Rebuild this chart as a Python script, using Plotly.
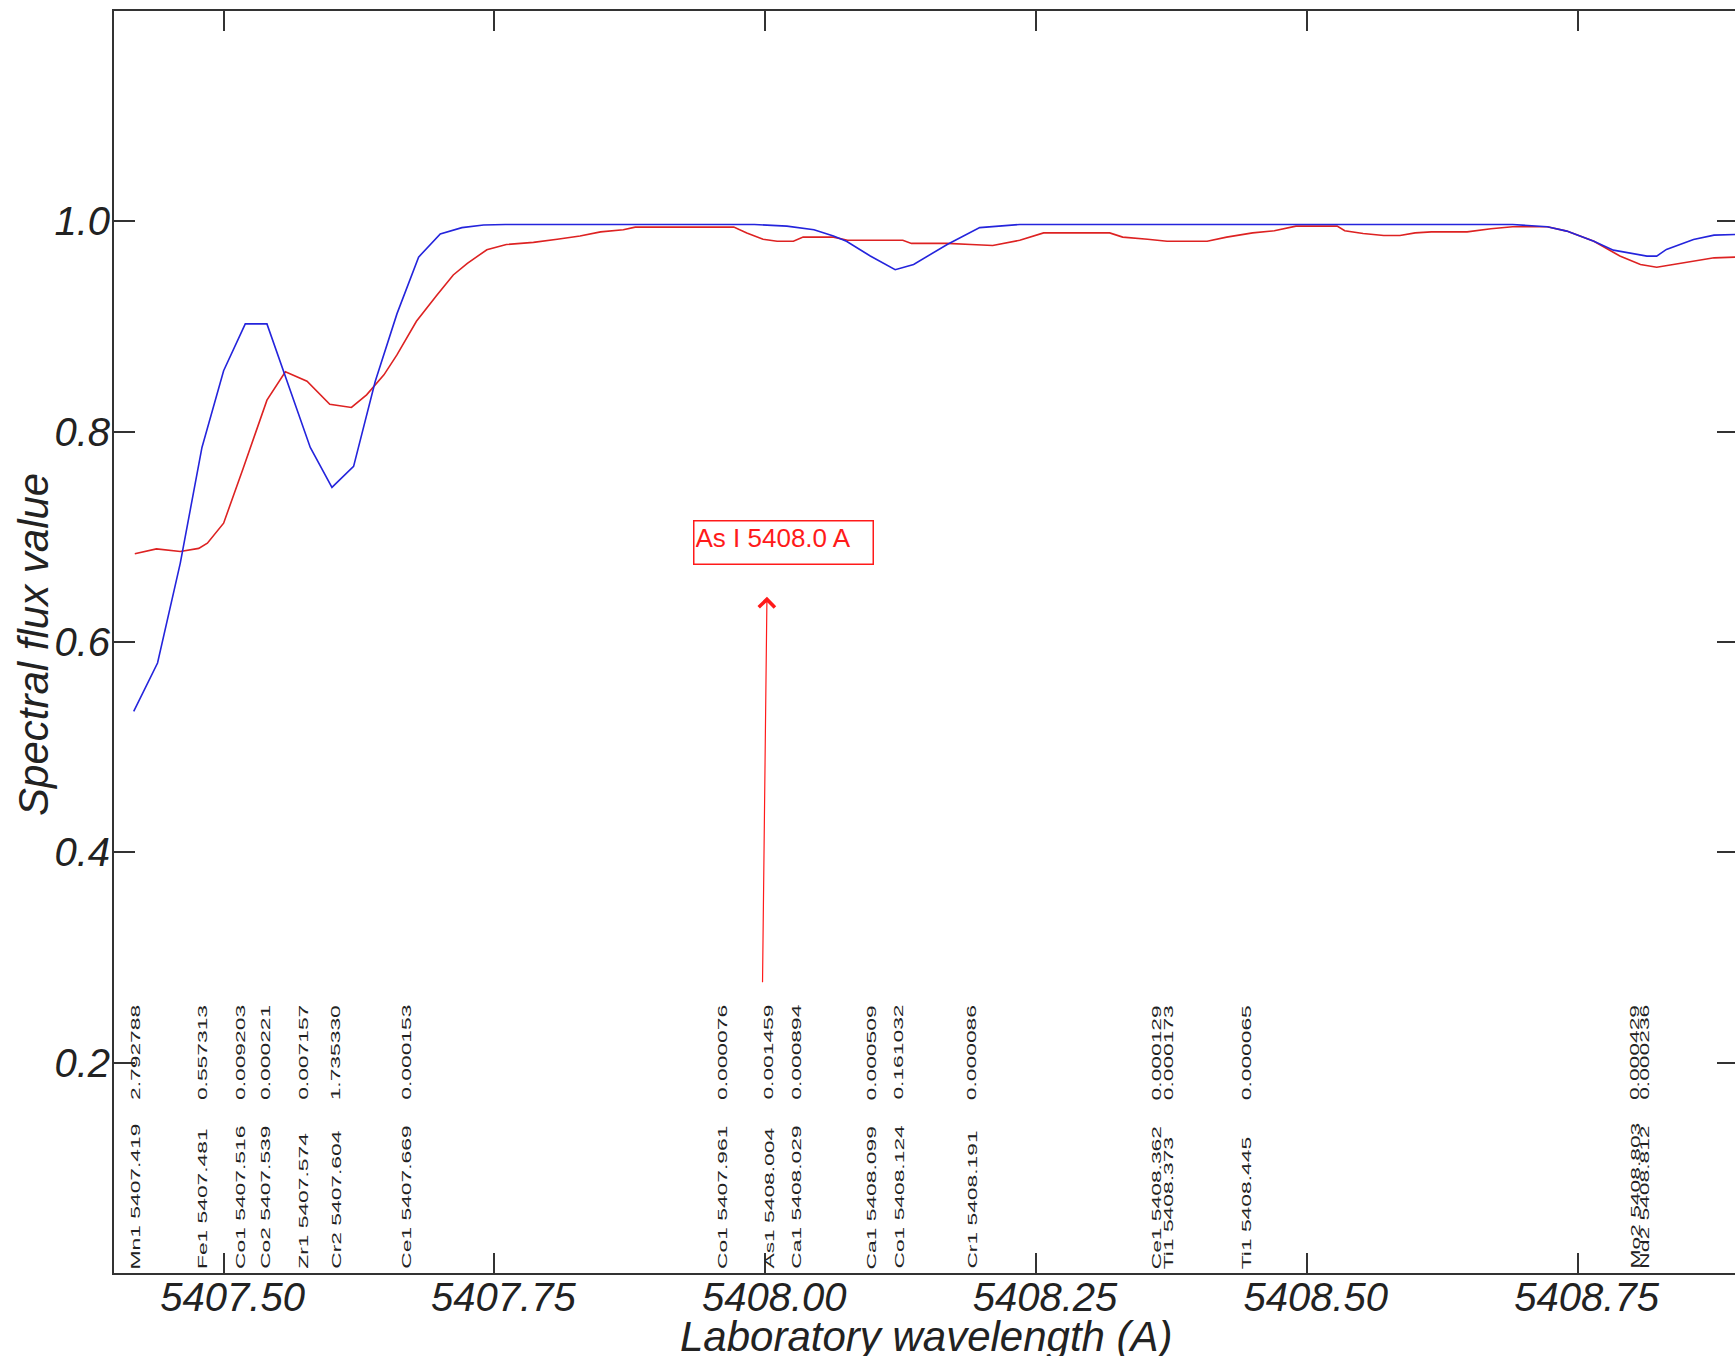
import plotly.graph_objects as go

# Synthetic spectrum (blue)
blue_wl = [5407.417, 5407.439, 5407.460, 5407.480, 5407.500, 5407.520, 5407.540, 5407.580,
           5407.600, 5407.620, 5407.640, 5407.660, 5407.680, 5407.700, 5407.720, 5407.740,
           5407.760, 5407.990, 5408.020, 5408.045, 5408.063, 5408.075, 5408.097, 5408.120,
           5408.137, 5408.168, 5408.198, 5408.235, 5408.690, 5408.722, 5408.740, 5408.765,
           5408.783, 5408.799, 5408.814, 5408.823, 5408.832, 5408.857, 5408.876, 5408.896]
blue_flux = [0.534, 0.580, 0.675, 0.785, 0.858, 0.9025, 0.9025, 0.785,
             0.747, 0.767, 0.848, 0.912, 0.966, 0.988, 0.994, 0.9965,
             0.997, 0.997, 0.9954, 0.992, 0.986, 0.981, 0.967, 0.954,
             0.959, 0.978, 0.994, 0.997, 0.997, 0.9948, 0.9907, 0.981,
             0.9726, 0.970, 0.9669, 0.9669, 0.9733, 0.9828, 0.9869, 0.9875]

# Observed spectrum (red)
red_wl = [5407.418, 5407.438, 5407.460, 5407.477, 5407.485, 5407.500, 5407.518, 5407.540,
          5407.557, 5407.577, 5407.598, 5407.618, 5407.632, 5407.648, 5407.660, 5407.678,
          5407.697, 5407.712, 5407.725, 5407.743, 5407.761, 5407.786, 5407.808, 5407.829,
          5407.848, 5407.869, 5407.880, 5407.930, 5407.971, 5407.983, 5407.998, 5408.011,
          5408.026, 5408.035, 5408.063, 5408.076, 5408.127, 5408.135, 5408.168, 5408.190,
          5408.210, 5408.235, 5408.257, 5408.318, 5408.330, 5408.353, 5408.371, 5408.408,
          5408.426, 5408.450, 5408.470, 5408.490, 5408.528, 5408.535, 5408.552, 5408.571,
          5408.586, 5408.600, 5408.615, 5408.648, 5408.670, 5408.690, 5408.722, 5408.740,
          5408.765, 5408.789, 5408.808, 5408.823, 5408.842, 5408.863, 5408.876, 5408.896]
red_flux = [0.684, 0.6885, 0.686, 0.689, 0.694, 0.713, 0.765, 0.830,
            0.857, 0.848, 0.826, 0.823, 0.835, 0.854, 0.873, 0.905,
            0.930, 0.949, 0.960, 0.973, 0.978, 0.980, 0.983, 0.986,
            0.990, 0.992, 0.9945, 0.9945, 0.9945, 0.989, 0.983, 0.981,
            0.981, 0.985, 0.985, 0.982, 0.982, 0.979, 0.979, 0.978,
            0.977, 0.982, 0.989, 0.989, 0.985, 0.983, 0.981, 0.981,
            0.985, 0.989, 0.991, 0.9954, 0.9954, 0.991, 0.9885, 0.9866,
            0.9866, 0.989, 0.990, 0.990, 0.993, 0.9948, 0.9948, 0.9907,
            0.981, 0.967, 0.959, 0.9564, 0.9596, 0.9628, 0.9653, 0.966]

# Line list: species, laboratory wavelength, strength
line_species = ["Mn1", "Fe1", "Co1", "Co2", "Zr1", "Cr2", "Ce1", "Co1", "As1", "Ca1",
                "Ca1", "Co1", "Cr1", "Ce1", "Ti1", "Ti1", "Mo2", "Nd2"]
line_wl = [5407.419, 5407.481, 5407.516, 5407.539, 5407.574, 5407.604, 5407.669, 5407.961,
           5408.004, 5408.029, 5408.099, 5408.124, 5408.191, 5408.362, 5408.373, 5408.445,
           5408.803, 5408.812]
line_strength = [2.792788, 0.557313, 0.009203, 0.000221, 0.007157, 1.735330, 0.000153,
                 0.000076, 0.001459, 0.000894, 0.000509, 0.161032, 0.000086, 0.000129,
                 0.000173, 0.000065, 0.000429, 0.000236]

# Identified feature
target_label = "As I 5408.0 A"
target_wl = 5408.004

x_tickvals = [5407.50, 5407.75, 5408.00, 5408.25, 5408.50, 5408.75]
x_ticktext = ["5407.50", "5407.75", "5408.00", "5408.25", "5408.50", "5408.75"]
y_tickvals = [0.2, 0.4, 0.6, 0.8, 1.0]
y_ticktext = ["0.2", "0.4", "0.6", "0.8", "1.0"]

FONT = "Liberation Sans, Arial, sans-serif"
AXIS_COLOR = "#333333"

fig = go.Figure()
fig.add_trace(go.Scatter(x=red_wl, y=red_flux, mode="lines",
                         line=dict(color="#dd2222", width=1.6), yaxis="y"))
fig.add_trace(go.Scatter(x=blue_wl, y=blue_flux, mode="lines",
                         line=dict(color="#2424dc", width=1.6), yaxis="y2"))

annotations = []
# Line identifications: name + wavelength at the bottom, strength above it
for sp, wl, st in zip(line_species, line_wl, line_strength):
    annotations.append(dict(
        x=wl, y=0.0, xref="x", yref="y", text=f"{sp} {wl:.3f}", showarrow=False,
        textangle=-90, xanchor="center", yanchor="bottom", align="left", yshift=3,
        borderpad=0, font=dict(family=FONT, size=12, color="#222222")))
    annotations.append(dict(
        x=wl, y=0.1635, xref="x", yref="y", text=f"{st:.6f}", showarrow=False,
        textangle=-90, xanchor="center", yanchor="bottom", align="left",
        borderpad=0, font=dict(family=FONT, size=12, color="#222222")))

# Arrow pointing to the identified feature label
annotations.append(dict(
    x=target_wl - 0.0024, y=0.643, ax=target_wl - 0.0065, ay=0.275,
    xref="x", yref="y", axref="x", ayref="y", text="", showarrow=True,
    arrowhead=4, arrowsize=2.6, arrowwidth=1.2, arrowcolor="#ff1a1a"))
annotations.append(dict(
    x=target_wl - 0.0708, y=0.7158, xref="x", yref="y", text=target_label,
    showarrow=False, xanchor="left", yanchor="top", align="left", valign="top",
    width=176, height=40, bordercolor="#ff1a1a", borderwidth=1.5, borderpad=1,
    font=dict(family=FONT, size=26, color="#ff1a1a")))

# Axis titles
annotations.append(dict(
    x=0.5015, y=-0.0505, xref="paper", yref="paper", text="Laboratory wavelength (A)",
    showarrow=False, xanchor="center", yanchor="middle",
    font=dict(family=FONT, size=42, color="#222222", style="italic")))
annotations.append(dict(
    x=-0.0500, y=0.4984, xref="paper", yref="paper", text="Spectral flux value",
    showarrow=False, textangle=-90, xanchor="center", yanchor="middle",
    font=dict(family=FONT, size=42, color="#222222", style="italic")))

fig.update_layout(
    width=1735, height=1356, autosize=False,
    margin=dict(l=114, r=0, t=11, b=83, pad=0),
    paper_bgcolor="white", plot_bgcolor="white",
    showlegend=False,
    annotations=annotations,
    xaxis=dict(
        range=[5407.3988, 5408.8953], tickvals=x_tickvals, ticktext=x_ticktext,
        ticks="inside", ticklen=20, tickwidth=2, tickcolor=AXIS_COLOR,
        showline=True, linecolor=AXIS_COLOR, linewidth=2, mirror="ticks",
        showgrid=False, zeroline=False,
        ticklabelstandoff=-12, ticklabelshift=9,
        tickfont=dict(family=FONT, size=40, color="#222222", style="italic"),
    ),
    yaxis=dict(
        range=[0.0, 1.2], tickvals=y_tickvals, ticktext=y_ticktext,
        ticks="inside", ticklen=21, tickwidth=2, tickcolor=AXIS_COLOR,
        showline=True, linecolor=AXIS_COLOR, linewidth=2, mirror=False,
        showgrid=False, zeroline=False,
        ticklabelstandoff=-6,
        tickfont=dict(family=FONT, size=40, color="#222222", style="italic"),
    ),
    yaxis2=dict(
        overlaying="y", side="right", matches="y", anchor="x",
        tickvals=y_tickvals, showticklabels=False,
        ticks="inside", ticklen=18, tickwidth=2, tickcolor=AXIS_COLOR,
        showline=False, showgrid=False, zeroline=False,
    ),
)

# Stretch the small rotated line-list labels along their reading direction
post = """
var gd = document.getElementById('{plot_id}');
var stretch = 1.9;
gd.querySelectorAll('text.annotation-text').forEach(function(t){
  if (window.getComputedStyle(t).fontSize !== '12px') return;
  if (!t.textContent.trim()) return;
  var L = t.getComputedTextLength();
  t.setAttribute('lengthAdjust', 'spacingAndGlyphs');
  t.setAttribute('textLength', (L * stretch).toFixed(1));
});
"""

fig.write_html("out.html", post_script=post)
